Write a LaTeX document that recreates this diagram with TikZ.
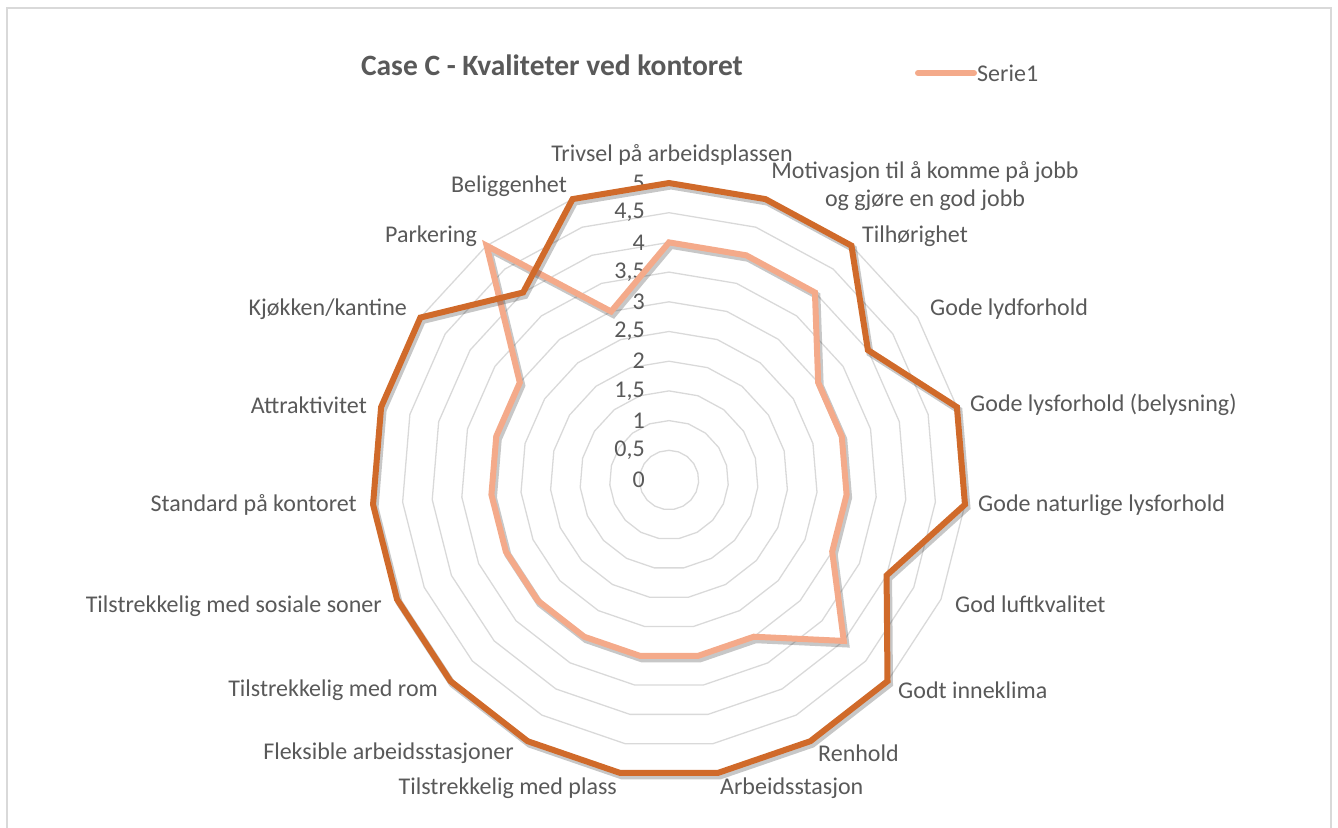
\documentclass[tikz,border=0pt]{standalone}
\usepackage{fontspec}
\setmainfont{Carlito}
\definecolor{txtgray}{RGB}{89,89,89}
\definecolor{gridgray}{RGB}{217,217,217}
\definecolor{framegray}{RGB}{217,217,217}
\definecolor{serdark}{RGB}{208,106,42}
\definecolor{serlight}{RGB}{244,170,138}
\tikzset{
  lbl/.style={text=txtgray, font=\fontsize{24}{28}\selectfont, inner sep=0pt},
  ticklbl/.style={text=txtgray, font=\fontsize{24}{28}\selectfont, inner sep=0pt, anchor=east},
  gridring/.style={draw=gridgray, line width=1.3},
  darkline/.style={draw=serdark, line width=6, line join=miter},
  lightline/.style={draw=serlight, line width=6, line join=miter},
  shadowline/.style={draw=black, opacity=0.22, line width=7, line join=miter},
}
\begin{document}
\begin{tikzpicture}[x=1pt,y=-1pt]
\useasboundingbox (0,0) rectangle (1338,827);
\clip (0,0) rectangle (1338,827);
% chart frame (open at the bottom edge of the page)
\draw[framegray, line width=2] (7,840) -- (7,7.5) -- (1331,7.5) -- (1331,840);

% radar geometry: centre (669,480), 59.4 px per unit, 19 axes
\def\cx{669}\def\cy{480}\def\u{59.4}

% grid rings 0.5 ... 5
\foreach \k in {1,...,10}{
  \draw[gridring] ({\cx},{\cy-\k*0.5*\u})
    \foreach \i in {1,...,18}{ -- ({\cx+\k*0.5*\u*sin(\i*360/19)},{\cy-\k*0.5*\u*cos(\i*360/19)}) } -- cycle;
}

% scale labels
\foreach \t/\s [count=\n] in {0/0,0.5/{0,5},1/1,1.5/{1,5},2/2,2.5/{2,5},3/3,3.5/{3,5},4/4,4.5/{4,5},5/5}
  \node[ticklbl] (tick\n) at (645,{\cy-\t*\u}) {\s};

% data points
\foreach \v [count=\i from 0] in {5,5,5,4,5,5,4,5,5,5,5,5,5,5,5,5,5,4,5}
  \coordinate (d\i) at ({\cx+\v*\u*sin(\i*360/19)},{\cy-\v*\u*cos(\i*360/19)});
\foreach \v [count=\i from 0] in {4,4,4,3,3,3,3,4,3,3,3,3,3,3,3,3,3,5,3}
  \coordinate (l\i) at ({\cx+\v*\u*sin(\i*360/19)},{\cy-\v*\u*cos(\i*360/19)});

% light series with shadow
\draw[shadowline] ([shift={(2,3)}]l0) \foreach \i in {1,...,18}{ -- ([shift={(2,3)}]l\i) } -- cycle;
\draw[lightline] (l0) \foreach \i in {1,...,18}{ -- (l\i) } -- cycle;
% dark series with shadow
\draw[shadowline] ([shift={(2,3)}]d0) \foreach \i in {1,...,18}{ -- ([shift={(2,3)}]d\i) } -- cycle;
\draw[darkline] (d0) \foreach \i in {1,...,18}{ -- (d\i) } -- cycle;

% category labels
\node[lbl] (c0) at (672,155) {Trivsel på arbeidsplassen};
\node[lbl, align=center] (c1) at (925,186) {Motivasjon til å komme på jobb\\og gjøre en god jobb};
\node[lbl, anchor=west] (c2) at (862,236) {Tilhørighet};
\node[lbl, anchor=west] (c3) at (930,309) {Gode lydforhold};
\node[lbl, anchor=west] (c4) at (970,405) {Gode lysforhold (belysning)};
\node[lbl, anchor=west] (c5) at (978,505) {Gode naturlige lysforhold};
\node[lbl, anchor=west] (c6) at (955,604) {God luftkvalitet};
\node[lbl, anchor=west] (c7) at (898,690) {Godt inneklima};
\node[lbl, anchor=west] (c8) at (818,753) {Renhold};
\node[lbl, anchor=west] (c9) at (720,788) {Arbeidsstasjon};
\node[lbl, anchor=east] (c10) at (617,788) {Tilstrekkelig med plass};
\node[lbl, anchor=east] (c11) at (514,753) {Fleksible arbeidsstasjoner};
\node[lbl, anchor=east] (c12) at (438,690) {Tilstrekkelig med rom};
\node[lbl, anchor=east] (c13) at (382,606) {Tilstrekkelig med sosiale soner};
\node[lbl, anchor=east] (c14) at (357,505) {Standard på kontoret};
\node[lbl, anchor=east] (c15) at (367,405) {Attraktivitet};
\node[lbl, anchor=east] (c16) at (407,309) {Kjøkken/kantine};
\node[lbl, anchor=east] (c17) at (477,236) {Parkering};
\node[lbl, anchor=east] (c18) at (567,186) {Beliggenhet};

% title
\node[text=txtgray, font=\fontsize{29.5}{34}\selectfont\bfseries, inner sep=0pt] (title) at (552,65) {Case C - Kvaliteter ved kontoret};

% legend
\coordinate (legA) at (918,73);
\node[lbl, anchor=west] (legT) at (977,73) {Serie1};
\draw[serlight, line width=6, line cap=round] (legA) -- ([xshift=-3pt]legT.west);
\end{tikzpicture}
\end{document}
